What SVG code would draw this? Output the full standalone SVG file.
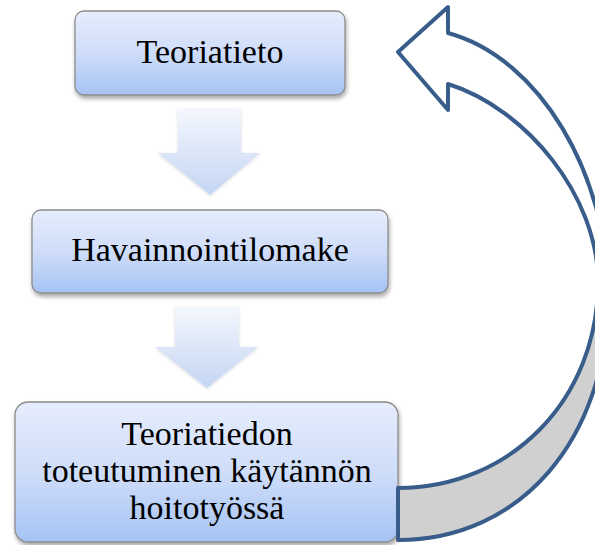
<svg xmlns="http://www.w3.org/2000/svg" width="595" height="545" viewBox="0 0 595 545">
  <defs>
    <linearGradient id="boxGrad" x1="0" y1="0" x2="0" y2="1">
      <stop offset="0" stop-color="#e6edfc"/>
      <stop offset="0.5" stop-color="#cfddf9"/>
      <stop offset="1" stop-color="#a6c3f4"/>
    </linearGradient>
    <linearGradient id="arrowGrad" x1="0" y1="0" x2="0" y2="1">
      <stop offset="0" stop-color="#f4f7fd"/>
      <stop offset="1" stop-color="#c4d5f3"/>
    </linearGradient>
    <filter id="shadow" x="-10%" y="-10%" width="120%" height="130%">
      <feDropShadow dx="1" dy="3" stdDeviation="2" flood-color="#000" flood-opacity="0.35"/>
    </filter>
    <filter id="softShadow" x="-20%" y="-20%" width="140%" height="140%">
      <feDropShadow dx="0" dy="1" stdDeviation="1.5" flood-color="#000" flood-opacity="0.15"/>
    </filter>
  </defs>
  <style>
    .box { fill: url(#boxGrad); stroke: #8c8c8c; stroke-width: 1.3; filter: url(#shadow); }
    .lbl { font-family: "Liberation Serif", "Times New Roman", serif; font-size: 34px; fill: #000; text-anchor: middle; }
    .down { fill: url(#arrowGrad); filter: url(#softShadow); }
    .curve { stroke: #385d8a; stroke-width: 4; stroke-linejoin: round; }
  </style>

  <g id="node-teoriatieto">
    <rect class="box" x="75" y="11" width="270" height="84" rx="9"/>
    <text class="lbl" x="210" y="63">Teoriatieto</text>
  </g>

  <g id="node-havainnointilomake">
    <rect class="box" x="32" y="210" width="356" height="83" rx="9"/>
    <text class="lbl" x="210" y="261">Havainnointilomake</text>
  </g>

  <g id="node-toteutuminen">
    <rect class="box" x="15" y="402" width="383" height="140" rx="13"/>
    <text class="lbl" x="207" y="445">Teoriatiedon</text>
    <text class="lbl" x="207" y="482">toteutuminen käytännön</text>
    <text class="lbl" x="207" y="519">hoitotyössä</text>
  </g>

  <g id="connectors">
    <path class="down" d="M178 109 H241 V153 H260 L210 195 L158 153 H178 Z"/>
    <path class="down" d="M175 307 H239 V347 H258 L207 388 L155 347 H175 Z"/>
    <path class="curve" fill="#d0d0d0" d="M598 282 C598 400 510 488 398 488 L398 540 C520 540 608 440 608 295 Z"/>
    <path class="curve" fill="#ffffff" d="M398 52 L448 7 L448 33 C540 58 608 175 608 295 L598 282 C598 195 525 108 448 84 L448 110 Z"/>
  </g>
</svg>
